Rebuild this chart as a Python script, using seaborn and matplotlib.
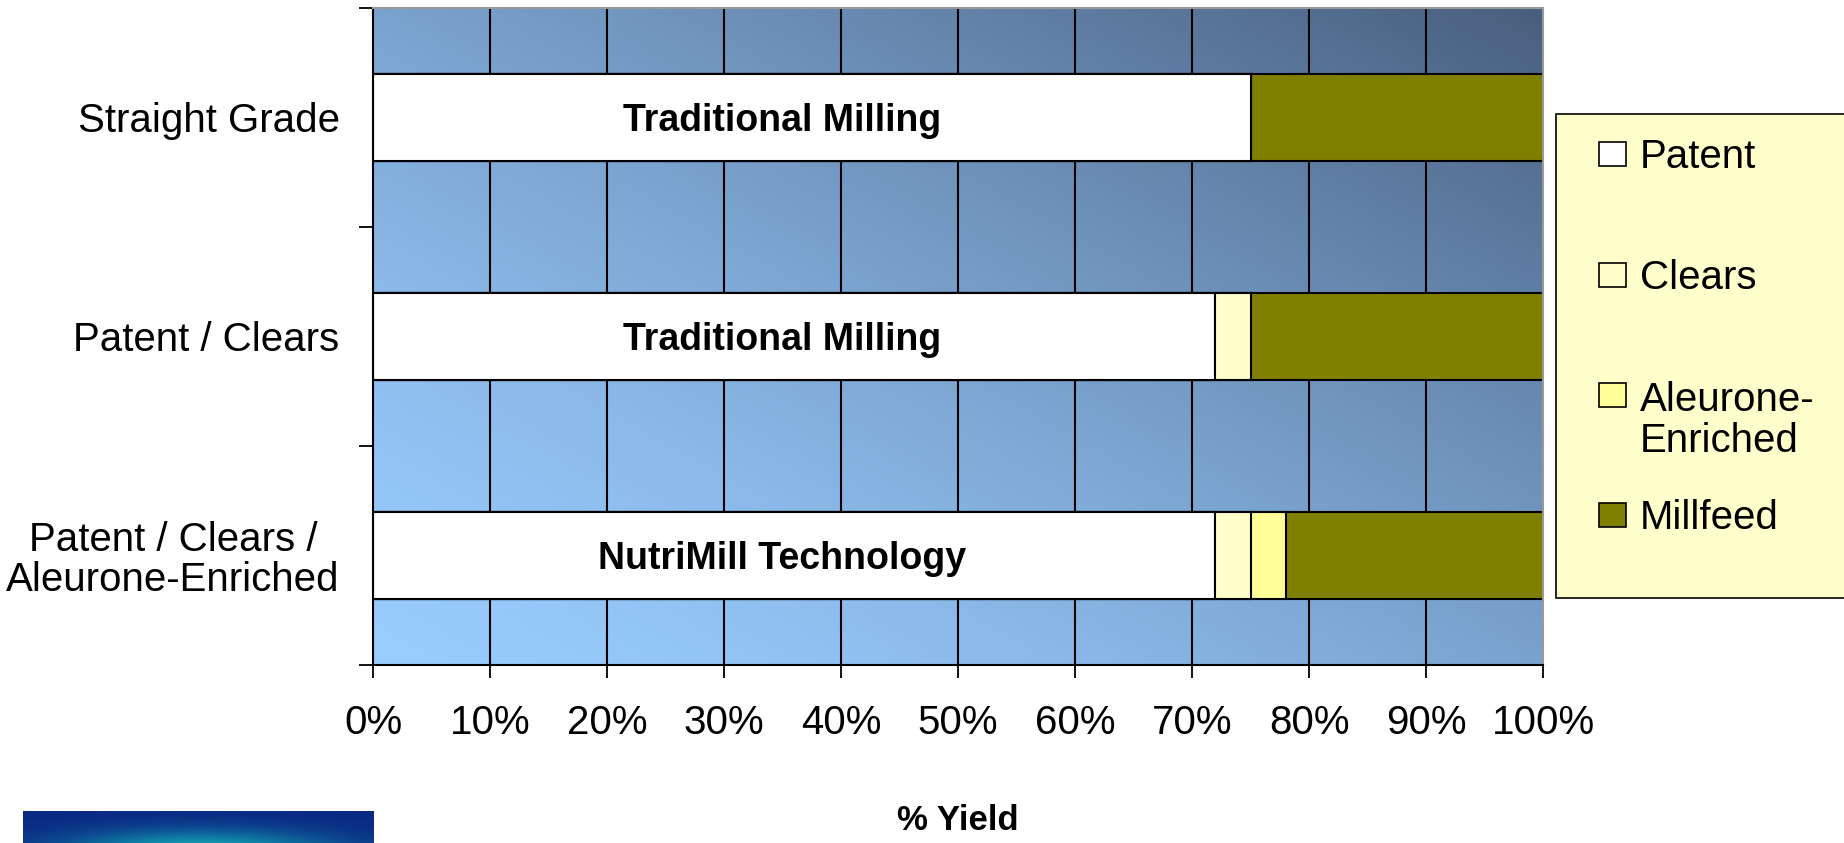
import numpy as np
import pandas as pd
import matplotlib
matplotlib.use("Agg")
import matplotlib.pyplot as plt
from matplotlib.patches import Rectangle
import seaborn as sns

# chart data
categories = ["Straight Grade", "Patent / Clears", "Patent / Clears /\nAleurone-Enriched"]
patent = [75, 72, 72]
clears = [0, 3, 3]
aleurone = [0, 0, 3]
millfeed = [25, 25, 22]
segment_names = ["Patent", "Clears", "Aleurone-\nEnriched", "Millfeed"]
segment_colors = ["#FFFFFF", "#FFFFCC", "#FFFF99", "#808000"]
bar_labels = ["Traditional Milling", "Traditional Milling", "NutriMill Technology"]
x_ticks = list(range(0, 101, 10))
x_ticklabels = [f"{t}%" for t in x_ticks]

sns.set_theme(style="white")
plt.rcParams["font.family"] = ["Liberation Sans", "DejaVu Sans"]
plt.rcParams["text.color"] = "black"

df = pd.DataFrame({"Category": categories, "Patent": patent, "Clears": clears,
                   "Aleurone": aleurone, "Millfeed": millfeed})
layers = ["Patent", "Clears", "Aleurone", "Millfeed"]
cum = df[layers].cumsum(axis=1)

fig = plt.figure(figsize=(18.44, 8.43), dpi=100)
ax = fig.add_axes([0.2023, 0.2112, 0.6345, 0.7794])

# gradient plot area (light bottom-left -> dark top-right)
n = 200
u = np.linspace(0, 1, n)[None, :]
v = np.linspace(1, 0, n)[:, None]
t = ((u + v) / 2) ** 1.4
c0 = np.array([153, 204, 255]) / 255
c1 = np.array([72, 94, 126]) / 255
grad = c0[None, None, :] * (1 - t[..., None]) + c1[None, None, :] * t[..., None]
ax.imshow(grad, extent=[0, 100, 2.5, -0.5], aspect="auto", zorder=0, origin="upper")

# stacked bars: draw cumulative totals from back to front
for i in reversed(range(len(layers))):
    sns.barplot(x=cum[layers[i]], y=df["Category"], orient="h", color=segment_colors[i],
                saturation=1, edgecolor="black", linewidth=1.5, width=0.4,
                errorbar=None, ax=ax, zorder=2)

for i, lab in enumerate(bar_labels):
    ax.text(35, i + 0.016, lab, ha="center", va="center", fontsize=27,
            fontweight="bold", color="black", zorder=3)

ax.set_xlim(0, 100)
ax.set_ylim(2.5, -0.5)
for xv in x_ticks[1:-1]:
    ax.axvline(xv, color="black", lw=1.5, zorder=1)

ax.set_xticks(x_ticks)
ax.set_xticklabels(x_ticklabels, fontsize=29)
ax.tick_params(axis="x", direction="out", length=9, width=1.3, color="black",
               labelcolor="black", pad=19, bottom=True)
ax.set_yticks(range(len(categories)))
ax.set_yticklabels(categories, fontsize=29)
ax.tick_params(axis="y", which="major", length=0, pad=24, labelcolor="black")
ax.set_yticks([-0.5, 0.5, 1.5, 2.5], minor=True)
ax.tick_params(axis="y", which="minor", direction="out", length=10, width=1.3,
               color="black", left=True)
for lbl in ax.get_yticklabels():
    lbl.set_multialignment("center")
    lbl.set_linespacing(1.05)
ax.set_ylabel("")

ax.set_xlabel("% Yield", fontsize=25, fontweight="bold", color="black")
ax.xaxis.set_label_coords(0.5, -0.237)
ax.xaxis.label.set_va("center")

for s in ["left", "bottom"]:
    ax.spines[s].set_color("black")
    ax.spines[s].set_linewidth(1.5)
for s in ["top", "right"]:
    ax.spines[s].set_color("#999999")
    ax.spines[s].set_linewidth(1.5)

# legend box, drawn by hand to follow the uneven entry spacing
fig.add_artist(Rectangle((0.8438, 0.2906), 0.2, 0.5742, transform=fig.transFigure,
                         facecolor="#FFFFCC", edgecolor="black", lw=1.2))
entry_y = [154, 275, 395, 515]  # pixel rows of each entry's first line
W, H = 1844, 843
for name, col, yp in zip(segment_names, segment_colors, entry_y):
    fy = (H - yp) / H
    fig.add_artist(Rectangle((1599 / W, fy - 12 / H), 27 / W, 24 / H,
                             transform=fig.transFigure, facecolor=col,
                             edgecolor="black", lw=1.2))
    nlines = name.count("\n") + 1
    ty = fy - (nlines - 1) * 22.5 / H
    fig.text(1640 / W, ty - 3 / H, name, ha="left", va="center", fontsize=29,
             color="black", linespacing=1.1)

# logo strip at bottom-left
lax = fig.add_axes([0.0125, 0.0, 0.19, 0.038])
xx = np.linspace(-1, 1, 300)[None, :]
yy = np.linspace(1, 0, 40)[:, None]
glow = np.exp(-((xx * 1.3) ** 2 + ((yy + 0.3) * 1.5) ** 2))
navy = np.array([10, 40, 130]) / 255
teal = np.array([20, 175, 185]) / 255
img = navy[None, None, :] * (1 - glow[..., None]) + teal[None, None, :] * glow[..., None]
lax.imshow(img, aspect="auto")
lax.axis("off")

fig.savefig("out.png", dpi=100)
